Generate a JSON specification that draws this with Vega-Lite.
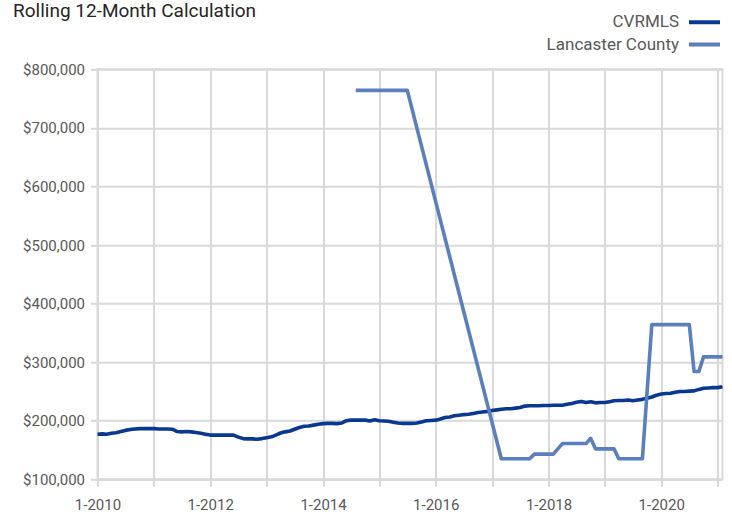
{
  "$schema": "https://vega.github.io/schema/vega-lite/v6.json",
  "width": 625,
  "height": 410,
  "autosize": {"type": "none"},
  "padding": {"left": 97.5, "top": 69.3, "right": 9.5, "bottom": 35.7},
  "background": "white",
  "title": {"text": "Rolling 12-Month Calculation", "anchor": "start", "font": "Roboto", "fontSize": 19, "fontWeight": "normal", "color": "#262626", "dx": -9.5, "offset": 0, "dy": 7},
  "data": {"values": [
    {"date": "2010-01-01", "series": "CVRMLS", "value": 177000},
    {"date": "2010-02-01", "series": "CVRMLS", "value": 177500},
    {"date": "2010-03-01", "series": "CVRMLS", "value": 177000},
    {"date": "2010-04-01", "series": "CVRMLS", "value": 178500},
    {"date": "2010-05-01", "series": "CVRMLS", "value": 179500},
    {"date": "2010-06-01", "series": "CVRMLS", "value": 181500},
    {"date": "2010-07-01", "series": "CVRMLS", "value": 183500},
    {"date": "2010-08-01", "series": "CVRMLS", "value": 185000},
    {"date": "2010-09-01", "series": "CVRMLS", "value": 186000},
    {"date": "2010-10-01", "series": "CVRMLS", "value": 186500},
    {"date": "2010-11-01", "series": "CVRMLS", "value": 186500},
    {"date": "2010-12-01", "series": "CVRMLS", "value": 186500},
    {"date": "2011-01-01", "series": "CVRMLS", "value": 186500},
    {"date": "2011-02-01", "series": "CVRMLS", "value": 186000},
    {"date": "2011-03-01", "series": "CVRMLS", "value": 186000},
    {"date": "2011-04-01", "series": "CVRMLS", "value": 186000},
    {"date": "2011-05-01", "series": "CVRMLS", "value": 185500},
    {"date": "2011-06-01", "series": "CVRMLS", "value": 181500},
    {"date": "2011-07-01", "series": "CVRMLS", "value": 181000},
    {"date": "2011-08-01", "series": "CVRMLS", "value": 181500},
    {"date": "2011-09-01", "series": "CVRMLS", "value": 181000},
    {"date": "2011-10-01", "series": "CVRMLS", "value": 180000},
    {"date": "2011-11-01", "series": "CVRMLS", "value": 178500},
    {"date": "2011-12-01", "series": "CVRMLS", "value": 177000},
    {"date": "2012-01-01", "series": "CVRMLS", "value": 175500},
    {"date": "2012-02-01", "series": "CVRMLS", "value": 175500},
    {"date": "2012-03-01", "series": "CVRMLS", "value": 175500},
    {"date": "2012-04-01", "series": "CVRMLS", "value": 175500},
    {"date": "2012-05-01", "series": "CVRMLS", "value": 175500},
    {"date": "2012-06-01", "series": "CVRMLS", "value": 175500},
    {"date": "2012-07-01", "series": "CVRMLS", "value": 172000},
    {"date": "2012-08-01", "series": "CVRMLS", "value": 169500},
    {"date": "2012-09-01", "series": "CVRMLS", "value": 169000},
    {"date": "2012-10-01", "series": "CVRMLS", "value": 169000},
    {"date": "2012-11-01", "series": "CVRMLS", "value": 168500},
    {"date": "2012-12-01", "series": "CVRMLS", "value": 169500},
    {"date": "2013-01-01", "series": "CVRMLS", "value": 171000},
    {"date": "2013-02-01", "series": "CVRMLS", "value": 172500},
    {"date": "2013-03-01", "series": "CVRMLS", "value": 175500},
    {"date": "2013-04-01", "series": "CVRMLS", "value": 179000},
    {"date": "2013-05-01", "series": "CVRMLS", "value": 181000},
    {"date": "2013-06-01", "series": "CVRMLS", "value": 182500},
    {"date": "2013-07-01", "series": "CVRMLS", "value": 185500},
    {"date": "2013-08-01", "series": "CVRMLS", "value": 188500},
    {"date": "2013-09-01", "series": "CVRMLS", "value": 190500},
    {"date": "2013-10-01", "series": "CVRMLS", "value": 191000},
    {"date": "2013-11-01", "series": "CVRMLS", "value": 192500},
    {"date": "2013-12-01", "series": "CVRMLS", "value": 194000},
    {"date": "2014-01-01", "series": "CVRMLS", "value": 195000},
    {"date": "2014-02-01", "series": "CVRMLS", "value": 195500},
    {"date": "2014-03-01", "series": "CVRMLS", "value": 195500},
    {"date": "2014-04-01", "series": "CVRMLS", "value": 195000},
    {"date": "2014-05-01", "series": "CVRMLS", "value": 196000},
    {"date": "2014-06-01", "series": "CVRMLS", "value": 200000},
    {"date": "2014-07-01", "series": "CVRMLS", "value": 201000},
    {"date": "2014-08-01", "series": "CVRMLS", "value": 201000},
    {"date": "2014-09-01", "series": "CVRMLS", "value": 201000},
    {"date": "2014-10-01", "series": "CVRMLS", "value": 201000},
    {"date": "2014-11-01", "series": "CVRMLS", "value": 199500},
    {"date": "2014-12-01", "series": "CVRMLS", "value": 201500},
    {"date": "2015-01-01", "series": "CVRMLS", "value": 200000},
    {"date": "2015-02-01", "series": "CVRMLS", "value": 199500},
    {"date": "2015-03-01", "series": "CVRMLS", "value": 199000},
    {"date": "2015-04-01", "series": "CVRMLS", "value": 197500},
    {"date": "2015-05-01", "series": "CVRMLS", "value": 196000},
    {"date": "2015-06-01", "series": "CVRMLS", "value": 195500},
    {"date": "2015-07-01", "series": "CVRMLS", "value": 195500},
    {"date": "2015-08-01", "series": "CVRMLS", "value": 195500},
    {"date": "2015-09-01", "series": "CVRMLS", "value": 196000},
    {"date": "2015-10-01", "series": "CVRMLS", "value": 198000},
    {"date": "2015-11-01", "series": "CVRMLS", "value": 200000},
    {"date": "2015-12-01", "series": "CVRMLS", "value": 200500},
    {"date": "2016-01-01", "series": "CVRMLS", "value": 201000},
    {"date": "2016-02-01", "series": "CVRMLS", "value": 203000},
    {"date": "2016-03-01", "series": "CVRMLS", "value": 205500},
    {"date": "2016-04-01", "series": "CVRMLS", "value": 206500},
    {"date": "2016-05-01", "series": "CVRMLS", "value": 208500},
    {"date": "2016-06-01", "series": "CVRMLS", "value": 209500},
    {"date": "2016-07-01", "series": "CVRMLS", "value": 210500},
    {"date": "2016-08-01", "series": "CVRMLS", "value": 211000},
    {"date": "2016-09-01", "series": "CVRMLS", "value": 212500},
    {"date": "2016-10-01", "series": "CVRMLS", "value": 214000},
    {"date": "2016-11-01", "series": "CVRMLS", "value": 215000},
    {"date": "2016-12-01", "series": "CVRMLS", "value": 216000},
    {"date": "2017-01-01", "series": "CVRMLS", "value": 217500},
    {"date": "2017-02-01", "series": "CVRMLS", "value": 218500},
    {"date": "2017-03-01", "series": "CVRMLS", "value": 219500},
    {"date": "2017-04-01", "series": "CVRMLS", "value": 220500},
    {"date": "2017-05-01", "series": "CVRMLS", "value": 220500},
    {"date": "2017-06-01", "series": "CVRMLS", "value": 221500},
    {"date": "2017-07-01", "series": "CVRMLS", "value": 222500},
    {"date": "2017-08-01", "series": "CVRMLS", "value": 225000},
    {"date": "2017-09-01", "series": "CVRMLS", "value": 225500},
    {"date": "2017-10-01", "series": "CVRMLS", "value": 225500},
    {"date": "2017-11-01", "series": "CVRMLS", "value": 225500},
    {"date": "2017-12-01", "series": "CVRMLS", "value": 226000},
    {"date": "2018-01-01", "series": "CVRMLS", "value": 226000},
    {"date": "2018-02-01", "series": "CVRMLS", "value": 226500},
    {"date": "2018-03-01", "series": "CVRMLS", "value": 226500},
    {"date": "2018-04-01", "series": "CVRMLS", "value": 226500},
    {"date": "2018-05-01", "series": "CVRMLS", "value": 228000},
    {"date": "2018-06-01", "series": "CVRMLS", "value": 229500},
    {"date": "2018-07-01", "series": "CVRMLS", "value": 231500},
    {"date": "2018-08-01", "series": "CVRMLS", "value": 233000},
    {"date": "2018-09-01", "series": "CVRMLS", "value": 231000},
    {"date": "2018-10-01", "series": "CVRMLS", "value": 232500},
    {"date": "2018-11-01", "series": "CVRMLS", "value": 230500},
    {"date": "2018-12-01", "series": "CVRMLS", "value": 231000},
    {"date": "2019-01-01", "series": "CVRMLS", "value": 231000},
    {"date": "2019-02-01", "series": "CVRMLS", "value": 232500},
    {"date": "2019-03-01", "series": "CVRMLS", "value": 234000},
    {"date": "2019-04-01", "series": "CVRMLS", "value": 234500},
    {"date": "2019-05-01", "series": "CVRMLS", "value": 234500},
    {"date": "2019-06-01", "series": "CVRMLS", "value": 235500},
    {"date": "2019-07-01", "series": "CVRMLS", "value": 234000},
    {"date": "2019-08-01", "series": "CVRMLS", "value": 235500},
    {"date": "2019-09-01", "series": "CVRMLS", "value": 236500},
    {"date": "2019-10-01", "series": "CVRMLS", "value": 238500},
    {"date": "2019-11-01", "series": "CVRMLS", "value": 240500},
    {"date": "2019-12-01", "series": "CVRMLS", "value": 243500},
    {"date": "2020-01-01", "series": "CVRMLS", "value": 245500},
    {"date": "2020-02-01", "series": "CVRMLS", "value": 246500},
    {"date": "2020-03-01", "series": "CVRMLS", "value": 247000},
    {"date": "2020-04-01", "series": "CVRMLS", "value": 248500},
    {"date": "2020-05-01", "series": "CVRMLS", "value": 250000},
    {"date": "2020-06-01", "series": "CVRMLS", "value": 250000},
    {"date": "2020-07-01", "series": "CVRMLS", "value": 250500},
    {"date": "2020-08-01", "series": "CVRMLS", "value": 251000},
    {"date": "2020-09-01", "series": "CVRMLS", "value": 253500},
    {"date": "2020-10-01", "series": "CVRMLS", "value": 255500},
    {"date": "2020-11-01", "series": "CVRMLS", "value": 256000},
    {"date": "2020-12-01", "series": "CVRMLS", "value": 256500},
    {"date": "2021-01-01", "series": "CVRMLS", "value": 256500},
    {"date": "2021-02-01", "series": "CVRMLS", "value": 258000},
    {"date": "2014-08-01", "series": "Lancaster County", "value": 764000},
    {"date": "2014-09-01", "series": "Lancaster County", "value": 764000},
    {"date": "2014-10-01", "series": "Lancaster County", "value": 764000},
    {"date": "2014-11-01", "series": "Lancaster County", "value": 764000},
    {"date": "2014-12-01", "series": "Lancaster County", "value": 764000},
    {"date": "2015-01-01", "series": "Lancaster County", "value": 764000},
    {"date": "2015-02-01", "series": "Lancaster County", "value": 764000},
    {"date": "2015-03-01", "series": "Lancaster County", "value": 764000},
    {"date": "2015-04-01", "series": "Lancaster County", "value": 764000},
    {"date": "2015-05-01", "series": "Lancaster County", "value": 764000},
    {"date": "2015-06-01", "series": "Lancaster County", "value": 764000},
    {"date": "2015-07-01", "series": "Lancaster County", "value": 764000},
    {"date": "2017-03-01", "series": "Lancaster County", "value": 135000},
    {"date": "2017-04-01", "series": "Lancaster County", "value": 135000},
    {"date": "2017-05-01", "series": "Lancaster County", "value": 135000},
    {"date": "2017-06-01", "series": "Lancaster County", "value": 135000},
    {"date": "2017-07-01", "series": "Lancaster County", "value": 135000},
    {"date": "2017-08-01", "series": "Lancaster County", "value": 135000},
    {"date": "2017-09-01", "series": "Lancaster County", "value": 135000},
    {"date": "2017-10-01", "series": "Lancaster County", "value": 143000},
    {"date": "2017-11-01", "series": "Lancaster County", "value": 143000},
    {"date": "2017-12-01", "series": "Lancaster County", "value": 143000},
    {"date": "2018-01-01", "series": "Lancaster County", "value": 143000},
    {"date": "2018-02-01", "series": "Lancaster County", "value": 143000},
    {"date": "2018-04-01", "series": "Lancaster County", "value": 161000},
    {"date": "2018-05-01", "series": "Lancaster County", "value": 161000},
    {"date": "2018-06-01", "series": "Lancaster County", "value": 161000},
    {"date": "2018-07-01", "series": "Lancaster County", "value": 161000},
    {"date": "2018-08-01", "series": "Lancaster County", "value": 161000},
    {"date": "2018-09-01", "series": "Lancaster County", "value": 161000},
    {"date": "2018-10-01", "series": "Lancaster County", "value": 170000},
    {"date": "2018-11-01", "series": "Lancaster County", "value": 152000},
    {"date": "2018-12-01", "series": "Lancaster County", "value": 152000},
    {"date": "2019-01-01", "series": "Lancaster County", "value": 152000},
    {"date": "2019-02-01", "series": "Lancaster County", "value": 152000},
    {"date": "2019-03-01", "series": "Lancaster County", "value": 152000},
    {"date": "2019-04-01", "series": "Lancaster County", "value": 135000},
    {"date": "2019-05-01", "series": "Lancaster County", "value": 135000},
    {"date": "2019-06-01", "series": "Lancaster County", "value": 135000},
    {"date": "2019-07-01", "series": "Lancaster County", "value": 135000},
    {"date": "2019-08-01", "series": "Lancaster County", "value": 135000},
    {"date": "2019-09-01", "series": "Lancaster County", "value": 135000},
    {"date": "2019-11-01", "series": "Lancaster County", "value": 364000},
    {"date": "2019-12-01", "series": "Lancaster County", "value": 364000},
    {"date": "2020-01-01", "series": "Lancaster County", "value": 364000},
    {"date": "2020-02-01", "series": "Lancaster County", "value": 364000},
    {"date": "2020-03-01", "series": "Lancaster County", "value": 364000},
    {"date": "2020-04-01", "series": "Lancaster County", "value": 364000},
    {"date": "2020-05-01", "series": "Lancaster County", "value": 364000},
    {"date": "2020-06-01", "series": "Lancaster County", "value": 364000},
    {"date": "2020-07-01", "series": "Lancaster County", "value": 364000},
    {"date": "2020-08-01", "series": "Lancaster County", "value": 284000},
    {"date": "2020-09-01", "series": "Lancaster County", "value": 284000},
    {"date": "2020-10-01", "series": "Lancaster County", "value": 309000},
    {"date": "2020-11-01", "series": "Lancaster County", "value": 309000},
    {"date": "2020-12-01", "series": "Lancaster County", "value": 309000},
    {"date": "2021-01-01", "series": "Lancaster County", "value": 309000},
    {"date": "2021-02-01", "series": "Lancaster County", "value": 309000}
  ]},
  "mark": {"type": "line", "strokeWidth": 3.6, "strokeJoin": "round", "strokeCap": "butt"},
  "encoding": {
    "x": {
      "field": "date", "type": "temporal",
      "scale": {"type": "utc", "domain": [{"year": 2010, "month": 1, "date": 1, "utc": true}, {"year": 2021, "month": 2, "date": 1, "utc": true}]},
      "axis": {
        "title": null,
        "tickCount": {"interval": "year", "step": 1},
        "labelExpr": "utcyear(datum.value) % 2 == 0 ? '1-' + utcyear(datum.value) : ''",
        "labelFlush": false, "labelOverlap": false,
        "labelFont": "Roboto", "labelFontSize": 15, "labelColor": "#595959", "labelPadding": 11,
        "grid": true, "gridColor": "#d9d9d9", "gridWidth": 2,
        "domainColor": "#d9d9d9", "domainWidth": 2,
        "ticks": true, "tickColor": "#d9d9d9", "tickWidth": 2, "tickSize": 7
      }
    },
    "y": {
      "field": "value", "type": "quantitative",
      "scale": {"domain": [100000, 800000], "nice": false, "zero": false},
      "axis": {
        "title": null,
        "values": [100000, 200000, 300000, 400000, 500000, 600000, 700000, 800000],
        "format": "$,.0f",
        "labelFont": "Roboto", "labelFontSize": 15, "labelColor": "#595959", "labelPadding": 6,
        "grid": true, "gridColor": "#d9d9d9", "gridWidth": 2,
        "domain": false,
        "ticks": true, "tickColor": "#d9d9d9", "tickWidth": 2, "tickSize": 7
      }
    },
    "color": {
      "field": "series", "type": "nominal",
      "scale": {"domain": ["CVRMLS", "Lancaster County"], "range": ["#0a3890", "#5b7fbd"]},
      "legend": {
        "orient": "none", "legendX": 598.5, "legendY": -55.5,
        "title": null, "padding": 0,
        "symbolType": "M-3,0H3", "symbolSize": 107, "symbolStrokeWidth": 4,
        "labelAlign": "right", "labelOffset": -34,
        "labelFont": "Roboto", "labelFontSize": 17, "labelColor": "#595959", "labelLimit": 300,
        "rowPadding": 4.2
      }
    }
  },
  "config": {"view": {"stroke": "#d9d9d9", "strokeWidth": 2}}
}
